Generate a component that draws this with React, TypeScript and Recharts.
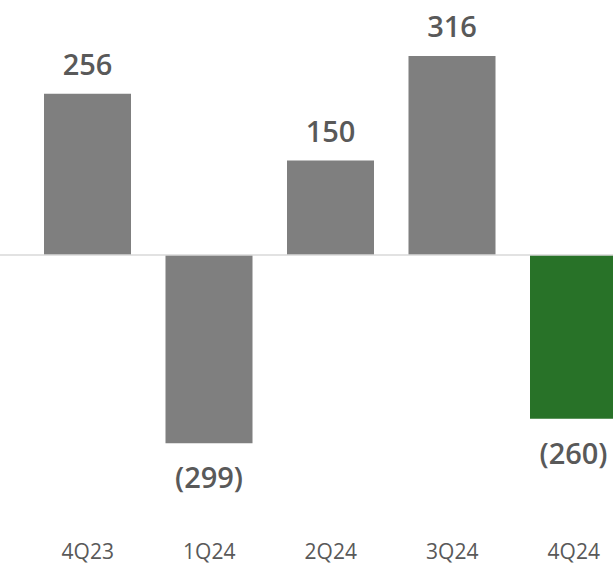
import React from "react";
import { BarChart, Bar, XAxis, YAxis, Cell, LabelList, ReferenceLine } from "recharts";

const categories = ["4Q23", "1Q24", "2Q24", "3Q24", "4Q24"];
const values = [256, -299, 150, 316, -260];
const colors = ["#7f7f7f", "#7f7f7f", "#7f7f7f", "#7f7f7f", "#287228"];

const data = categories.map((c, i) => ({ name: c, value: values[i] }));

const fmt = (v: number) => (v < 0 ? `(${Math.abs(v)})` : `${v}`);

const FONT = "'Open Sans', 'Noto Sans', sans-serif";

const ValueLabel = (props: any) => {
  const { x, y, width, height, value } = props;
  const top = Math.min(y, y + height);
  const bottom = Math.max(y, y + height);
  const cx = x + width / 2;
  const ty = value >= 0 ? top - 19 : bottom + 45;
  return (
    <text
      x={cx}
      y={ty}
      textAnchor="middle"
      fill="#595959"
      fontSize={29}
      fontWeight={600}
      fontFamily={FONT}
    >
      {fmt(value)}
    </text>
  );
};

export default function App() {
  return (
    <div
      style={{
        position: "absolute",
        left: 0,
        top: 0,
        width: 613,
        height: 566,
        overflow: "hidden",
        background: "#fff",
      }}
    >
      <BarChart
        width={640}
        height={566}
        data={data}
        margin={{ top: 3, right: 5.5, bottom: 29, left: 0 }}
        barSize={87}
      >
        <XAxis
          dataKey="name"
          height={30}
          axisLine={false}
          tickLine={false}
          padding={{ left: 27, right: 0 }}
          tickMargin={31}
          tick={{ fill: "#595959", fontSize: 21, fontFamily: FONT }}
          interval={0}
        />
        <YAxis hide domain={[-400, 400]} />
        <Bar dataKey="value" isAnimationActive={false}>
          {data.map((d, i) => (
            <Cell key={d.name} fill={colors[i]} />
          ))}
          <LabelList dataKey="value" content={ValueLabel} />
        </Bar>
        <ReferenceLine y={0} stroke="#d9d9d9" strokeWidth={1.5} />
      </BarChart>
    </div>
  );
}
